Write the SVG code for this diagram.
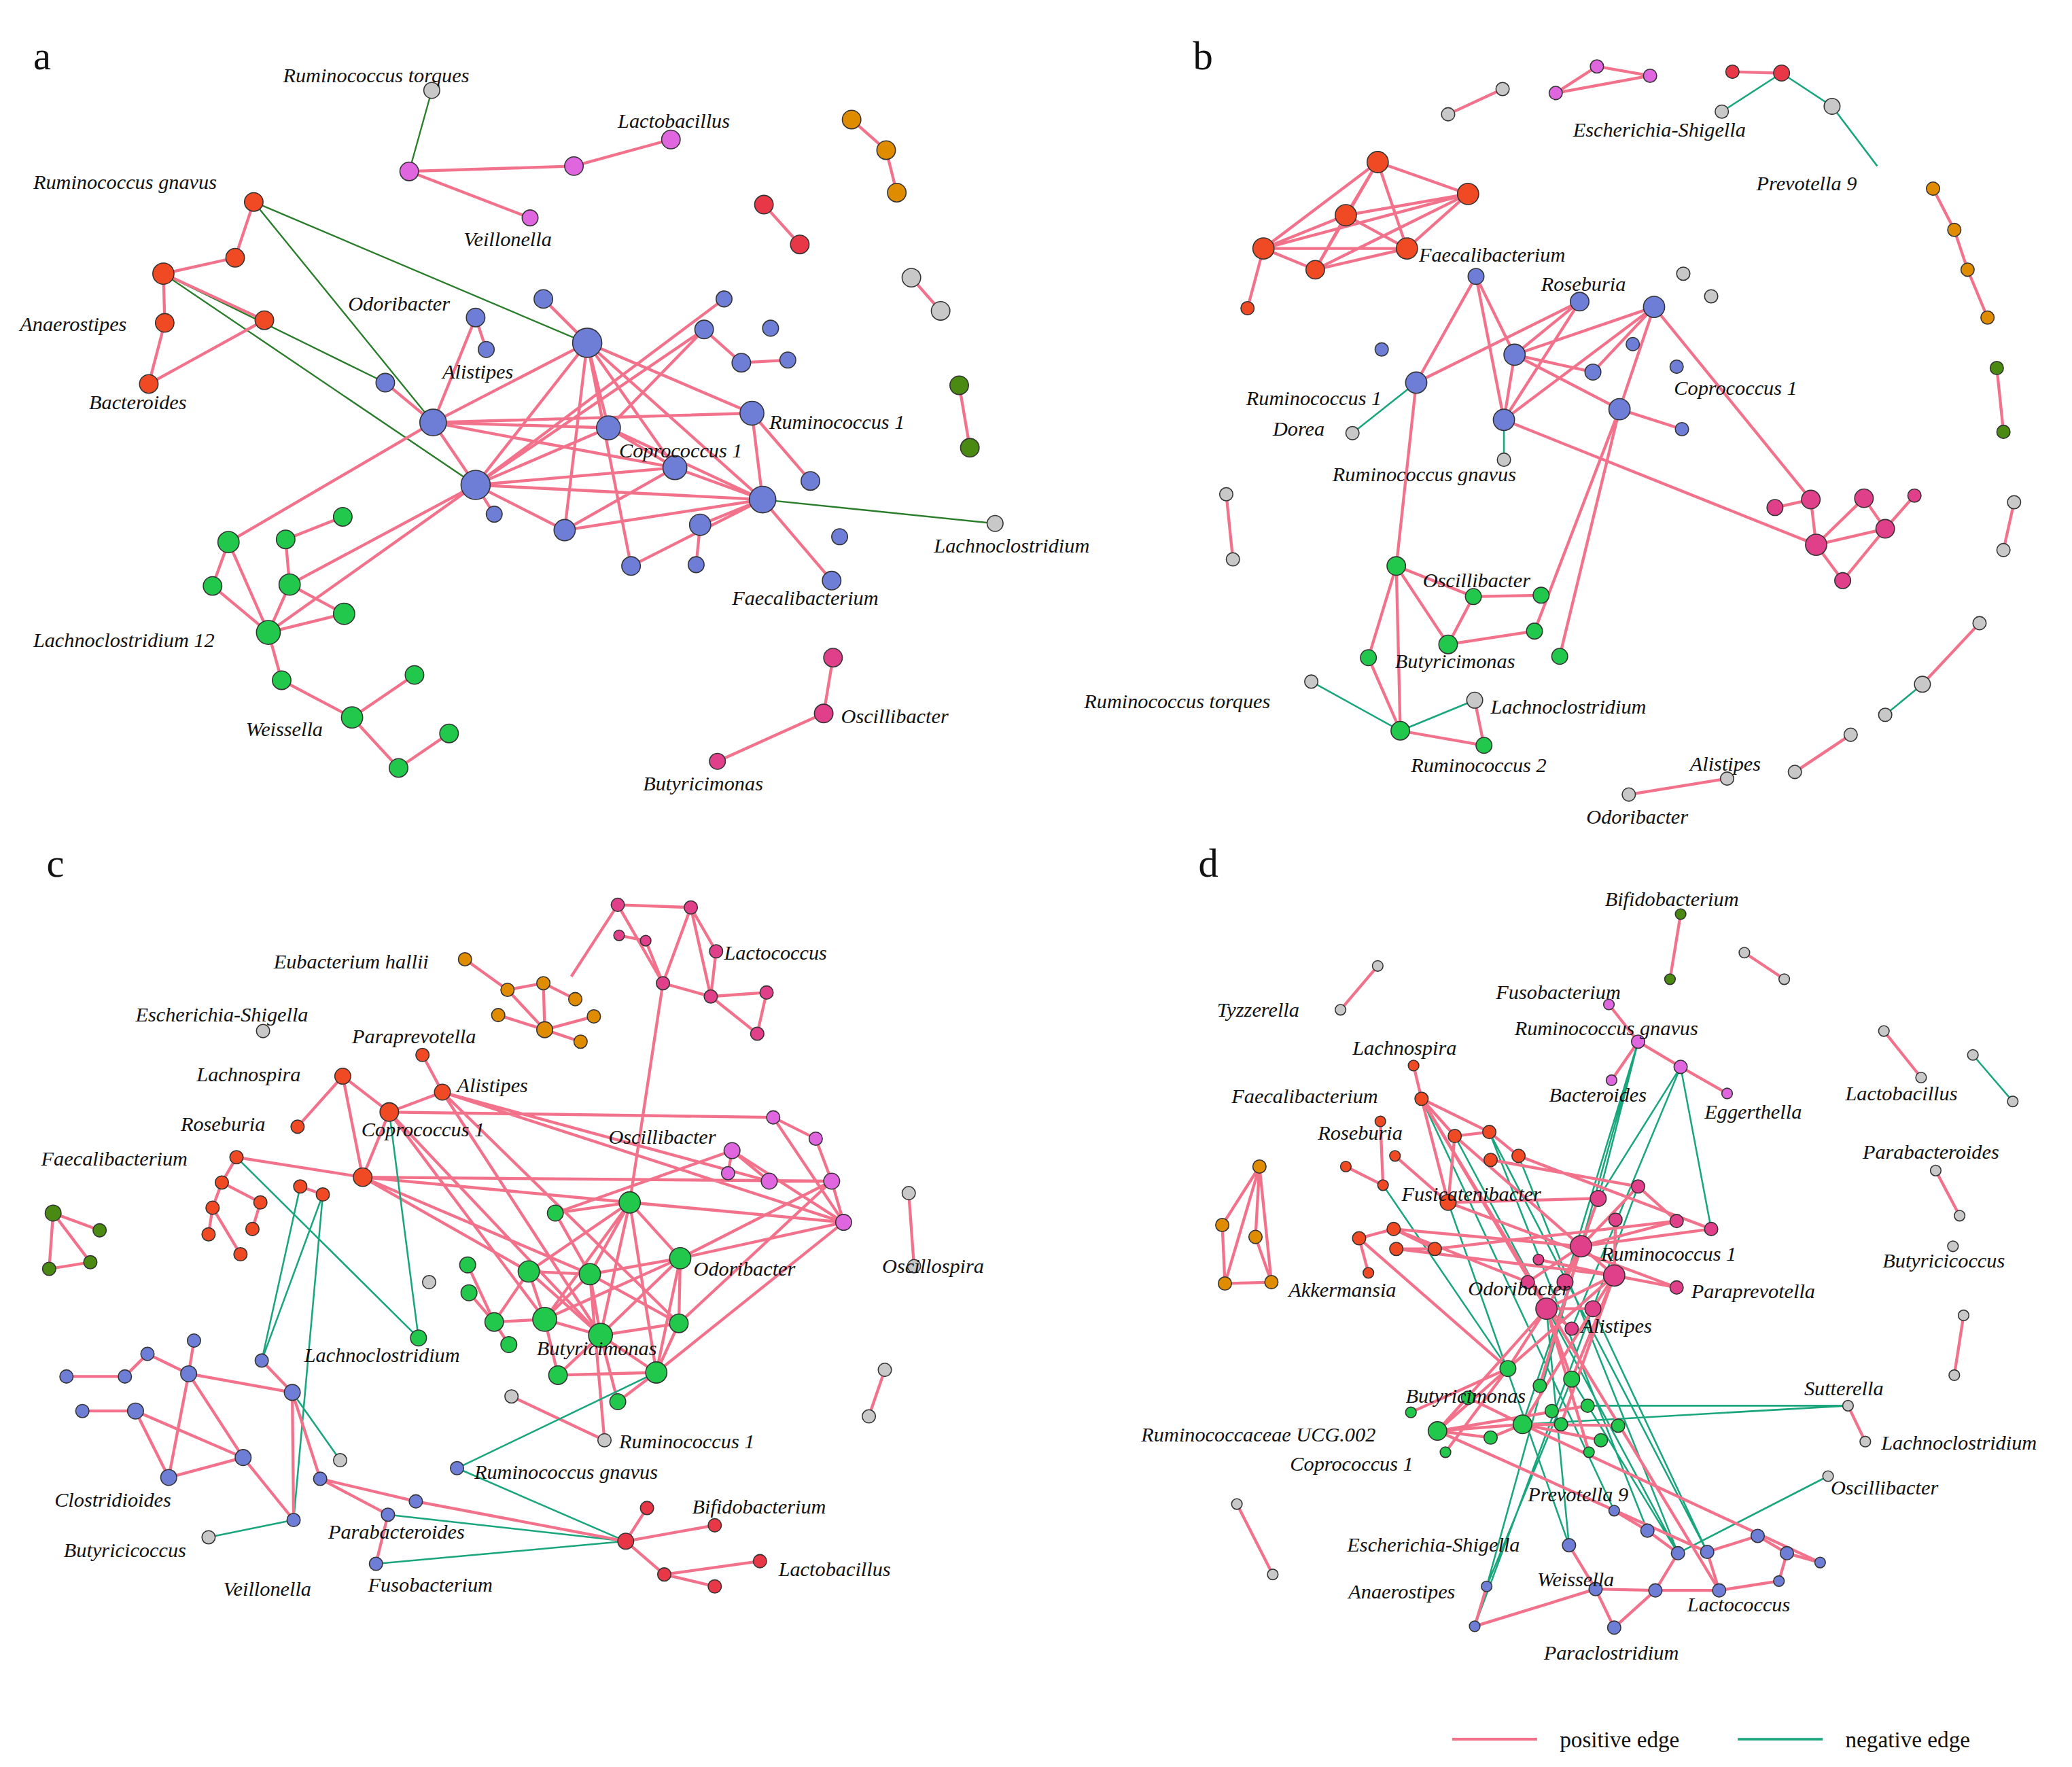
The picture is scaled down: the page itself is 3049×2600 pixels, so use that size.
<svg xmlns="http://www.w3.org/2000/svg" width="3049" height="2600" viewBox="0 0 3049 2600">
<style>
.p{stroke:#f2728c;stroke-width:2.2;fill:none}
.n{stroke:#1aa67c;stroke-width:1.3;fill:none}
.k{stroke:#2a7d2a;stroke-width:1.2;fill:none}
circle{stroke:#333;stroke-width:0.8}
.r{fill:#f04a24}.b{fill:#6e7ed6}.g{fill:#22c84c}.y{fill:#c8c8c8}.m{fill:#e0408a}.v{fill:#e066e0}.o{fill:#e08c00}.l{fill:#4a8a12}.d{fill:#e83848}
text{font-family:"Liberation Serif",serif;font-style:italic;font-size:15.5px;fill:#111}
.L{font-style:normal;font-size:30px}
.lg{font-style:normal;font-size:17px}
</style>
<rect width="3049" height="2600" fill="#fff"/>
<g transform="scale(1.955)">
<g id="connectors">
<!-- panel a -->
<path class="k" d="M325,68L308,129M191,152L326,318M191,152L566,311M123,206L290,288M123,206L358,365M574,376L749,394"/>
<path class="p" d="M308,129L432,125L505,105M308,129L399,164M641,90L667,113L675,145M575,154L602,184M686,209L708,234M722,290L730,337M627,495L620,537L540,573M191,152L177,194L123,206L124,243L112,289L199,241L123,206"/>
<path class="p" d="M326,318L442,258M326,318L458,322M326,318L358,365M326,318L566,311M326,318L290,288M326,318L358,239M326,318L508,352M358,365L442,258M358,365L458,322M358,365L530,248M358,365L545,225M358,365L574,376M358,365L508,352M358,365L425,399M358,365L372,387M442,258L458,322M442,258L409,225M442,258L508,352M442,258L574,376M442,258L425,399M442,258L475,426M442,258L566,311M458,322L574,376M458,322L530,248M458,322L508,352M508,352L574,376M508,352L425,399M574,376L527,395M574,376L566,311M574,376L626,437M574,376L475,426M574,376L425,399M566,311L610,362M558,273L593,271M530,248L558,273M527,395L524,425M358,239L366,263M326,318L172,408M358,365L202,476M358,365L218,440"/>
<path class="p" d="M172,408L160,441L202,476L172,408M215,406L258,389M215,406L218,440L259,462L202,476L218,440M202,476L212,512L265,540L312,508M265,540L300,578L338,552"/>
<!-- panel b -->
<path class="p" d="M1090,86L1131,67M1171,70L1202,50L1242,57L1171,70M1304,54L1341,55M1455,142L1471,173L1481,203L1496,239M1503,277L1508,325M1516,378L1508,414M1490,469L1447,515M1393,553L1351,581M1300,586L1226,598M923,372L928,421"/>
<path class="n" d="M1341,55L1296,84M1341,55L1379,80L1413,125M1447,515L1419,538M1066,288L1018,326M1132,316L1132,346M1054,550L987,513M1054,550L1110,527"/>
<path class="p" d="M1037,122L1013,162L1105,146L951,187L990,203L1059,187L1037,122L951,187M1037,122L990,203M1037,122L1105,146M1013,162L951,187M1013,162L990,203M1013,162L1059,187M1105,146L990,203M1105,146L1059,187M951,187L1059,187M951,187L939,232"/>
<path class="p" d="M1111,208L1066,288M1111,208L1140,267M1111,208L1132,316M1189,227L1140,267M1189,227L1132,316M1245,231L1140,267M1245,231L1219,308M1245,231L1132,316M1245,231L1199,280M1245,231L1363,376M1140,267L1199,280M1140,267L1132,316M1140,267L1219,308M1066,288L1189,227M1066,288L1051,426M1132,316L1367,410M1219,308L1266,323M1219,308L1174,494M1219,308L1155,475"/>
<path class="p" d="M1363,376L1336,382M1363,376L1367,410M1403,375L1367,410M1403,375L1419,398M1441,373L1419,398L1387,437L1367,410L1419,398"/>
<path class="p" d="M1051,426L1090,485M1051,426L1109,449L1160,448M1090,485L1155,475M1090,485L1109,449M1051,426L1030,495L1054,550L1051,426M1054,550L1117,561L1110,527"/>
<!-- panel c -->
<path class="p" d="M350,722L382,745L409,740L433,752M382,745L410,775L409,740M410,775L437,784M410,775L447,765M375,764L410,775M465,681L520,683M465,681L499,740M520,683L539,716M520,683L499,740M520,683L535,750M539,716L535,750M499,740L535,750L577,747L570,778L535,750M466,704L486,708L499,740M430,735L465,681M499,740L474,905"/>
<path class="p" d="M258,810L224,848M258,810L293,837M258,810L273,886M318,794L333,822M333,822L293,837L273,886M178,871L273,886M178,871L167,890L196,905L190,925M167,890L160,909L157,929M160,909L181,944M226,893L243,899M40,913L75,926M40,913L37,955L68,950L40,913"/>
<path class="p" d="M273,886L635,920M293,837L582,841M333,822L579,889M273,886L474,905M273,886L444,959M293,837L410,993M333,822L511,996M333,822L452,1005M273,886L398,957M293,837L452,1005M333,822L635,920M273,886L626,889M582,841L614,857L626,889M551,866L579,889L626,889L635,920M548,883L551,866L635,920M582,841L635,920M418,913L551,866M474,905L635,920M512,947L635,920M512,947L626,889M511,996L626,889M494,1033L635,920"/>
<path class="p" d="M474,905L418,913M474,905L512,947M474,905L398,957M474,905L444,959M474,905L410,993M474,905L452,1005M474,905L494,1033M512,947L444,959M512,947L410,993M512,947L452,1005M512,947L511,996M512,947L494,1033M398,957L444,959M398,957L410,993M398,957L452,1005M398,957L372,995M444,959L410,993M444,959L452,1005M444,959L511,996M410,993L452,1005M410,993L420,1035M452,1005L494,1033M452,1005L511,996M452,1005L420,1035M452,1005L465,1055M372,995L410,993M352,952L372,995M353,973L372,995M372,995L383,1012M418,913L444,959M494,1033L465,1055M511,996L494,1033M420,1035L494,1033M385,1051L455,1084M444,959L455,1084M684,898L688,953M666,1031L654,1066"/>
<path class="n" d="M178,871L315,1007M293,837L315,1007M243,899L197,1024M243,899L221,1144M226,893L197,1024M157,1157L221,1144M220,1048L256,1099M344,1105L471,1160M313,1130L471,1160M344,1105L494,1033M292,1140L471,1160M283,1177L471,1160"/>
<path class="p" d="M146,1009L142,1034M111,1019L142,1034M50,1036L94,1036L111,1019M62,1062L102,1062L127,1112M142,1034L127,1112M142,1034L183,1097M142,1034L220,1048M102,1062L183,1097M127,1112L183,1097M183,1097L221,1144M197,1024L220,1048L221,1144M220,1048L241,1113L313,1130L471,1160M292,1140L283,1177M241,1113L292,1140M487,1135L471,1160L538,1148M471,1160L500,1185L572,1175M500,1185L538,1194"/>
<!-- panel d -->
<path class="p" d="M1265,688L1257,737M1037,727L1009,760M1313,717L1343,737M1418,776L1446,811M1457,881L1475,915M1478,990L1471,1035M931,1132L958,1185M1404,1085L1391,1058M948,878L920,922M948,878L945,931M948,878L922,966M948,878L957,965M920,922L922,966M945,931L957,965M922,966L957,965M1233,784L1213,813M1233,784L1265,803L1300,823M1211,756L1233,784"/>
<path class="n" d="M1485,794L1515,829M1233,784L1190,938M1233,784L1178,965M1265,803L1183,1000M1265,803L1288,925M1265,803L1203,902M1233,784L1203,902M1090,905L1181,1163M1095,855L1263,1169M1121,852L1240,1152M1041,892L1135,1030M1070,827L1215,1137M1143,870L1263,1169M1391,1058L1146,1072M1391,1058L1195,1058M1376,1111L1263,1169M1215,960L1119,1194M1233,893L1110,1224M1190,938L1119,1194M1164,985L1181,1163M1121,852L1285,1168M1203,902L1146,1072M1183,1038L1263,1169M1199,985L1285,1168"/>
<path class="p" d="M1070,827L1095,855M1070,827L1121,852M1095,855L1121,852L1143,870M1095,855L1090,905M1070,827L1090,905M1064,802L1070,827M1039,844L1041,892M1013,878L1041,892M1050,870L1090,905M1023,932L1049,925L1080,940M1051,940L1080,940M1023,932L1030,958M1090,905L1203,902M1049,925L1190,938M1095,855L1190,938M1122,873L1233,893M1070,827L1164,985M1080,940L1262,919M1051,940L1215,960M1090,905L1262,969M1143,870L1288,925M1023,932L1135,1030M1049,925L1150,965"/>
<path class="p" d="M1190,938L1215,960M1190,938L1164,985M1190,938L1262,919M1190,938L1233,893M1215,960L1262,969M1215,960L1164,985M1164,985L1199,985L1215,960M1190,938L1288,925M1158,948L1215,960M1178,965L1190,938M1203,902L1190,938M1216,918L1215,960M1233,893L1262,919M1164,985L1183,1000M1150,965L1190,938"/>
<path class="p" d="M1135,1030L1082,1077L1146,1072L1205,1084M1082,1077L1122,1082L1146,1072M1135,1030L1164,985M1183,1038L1164,985M1183,1038L1215,960M1146,1072L1218,1073M1082,1077L1195,1058M1088,1093L1135,1030M1062,1063L1135,1030M1105,1052L1146,1072M1159,1043L1190,938M1082,1077L1285,1168M1146,1072L1370,1176M1070,827L1294,1197M1082,1077L1164,985M1135,1030L1215,960M1175,1072L1215,960M1196,1093L1164,985M1146,1072L1199,985"/>
<path class="p" d="M1215,1137L1240,1152L1263,1169M1285,1168L1323,1156L1345,1169L1370,1176M1345,1169L1339,1190M1246,1197L1294,1197L1339,1190M1246,1197L1215,1225L1201,1196L1246,1197M1263,1169L1246,1197M1119,1194L1110,1224L1201,1196M1181,1163L1201,1196M1285,1168L1294,1197"/>
</g>
<g id="nodes">
<!-- a -->
<circle class="y" cx="325" cy="68" r="6"/><circle class="v" cx="308" cy="129" r="7"/><circle class="v" cx="432" cy="125" r="7"/><circle class="v" cx="505" cy="105" r="7"/><circle class="v" cx="399" cy="164" r="6"/>
<circle class="o" cx="641" cy="90" r="7"/><circle class="o" cx="667" cy="113" r="7"/><circle class="o" cx="675" cy="145" r="7"/>
<circle class="d" cx="575" cy="154" r="7"/><circle class="d" cx="602" cy="184" r="7"/><circle class="y" cx="686" cy="209" r="7"/><circle class="y" cx="708" cy="234" r="7"/><circle class="l" cx="722" cy="290" r="7"/><circle class="l" cx="730" cy="337" r="7"/>
<circle class="r" cx="191" cy="152" r="7"/><circle class="r" cx="177" cy="194" r="7"/><circle class="r" cx="123" cy="206" r="8"/><circle class="r" cx="124" cy="243" r="7"/><circle class="r" cx="199" cy="241" r="7"/><circle class="r" cx="112" cy="289" r="7"/>
<circle class="b" cx="409" cy="225" r="7"/><circle class="b" cx="442" cy="258" r="11"/><circle class="b" cx="358" cy="239" r="7"/><circle class="b" cx="366" cy="263" r="6"/><circle class="b" cx="290" cy="288" r="7"/><circle class="b" cx="326" cy="318" r="10"/><circle class="b" cx="358" cy="365" r="11"/><circle class="b" cx="372" cy="387" r="6"/><circle class="b" cx="545" cy="225" r="6"/><circle class="b" cx="530" cy="248" r="7"/><circle class="b" cx="580" cy="247" r="6"/><circle class="b" cx="558" cy="273" r="7"/><circle class="b" cx="593" cy="271" r="6"/><circle class="b" cx="566" cy="311" r="9"/><circle class="b" cx="458" cy="322" r="9"/><circle class="b" cx="508" cy="352" r="9"/><circle class="b" cx="610" cy="362" r="7"/><circle class="b" cx="574" cy="376" r="10"/><circle class="b" cx="425" cy="399" r="8"/><circle class="b" cx="527" cy="395" r="8"/><circle class="b" cx="475" cy="426" r="7"/><circle class="b" cx="524" cy="425" r="6"/><circle class="b" cx="632" cy="404" r="6"/><circle class="b" cx="626" cy="437" r="7"/>
<circle class="y" cx="749" cy="394" r="6"/>
<circle class="g" cx="258" cy="389" r="7"/><circle class="g" cx="172" cy="408" r="8"/><circle class="g" cx="215" cy="406" r="7"/><circle class="g" cx="218" cy="440" r="8"/><circle class="g" cx="160" cy="441" r="7"/><circle class="g" cx="259" cy="462" r="8"/><circle class="g" cx="202" cy="476" r="9"/><circle class="g" cx="212" cy="512" r="7"/><circle class="g" cx="312" cy="508" r="7"/><circle class="g" cx="265" cy="540" r="8"/><circle class="g" cx="338" cy="552" r="7"/><circle class="g" cx="300" cy="578" r="7"/>
<circle class="m" cx="627" cy="495" r="7"/><circle class="m" cx="620" cy="537" r="7"/><circle class="m" cx="540" cy="573" r="6"/>
<!-- b -->
<circle class="y" cx="1090" cy="86" r="5"/><circle class="y" cx="1131" cy="67" r="5"/><circle class="v" cx="1171" cy="70" r="5"/><circle class="v" cx="1202" cy="50" r="5"/><circle class="v" cx="1242" cy="57" r="5"/>
<circle class="d" cx="1304" cy="54" r="5"/><circle class="d" cx="1341" cy="55" r="6"/><circle class="y" cx="1296" cy="84" r="5"/><circle class="y" cx="1379" cy="80" r="6"/>
<circle class="o" cx="1455" cy="142" r="5"/><circle class="o" cx="1471" cy="173" r="5"/><circle class="o" cx="1481" cy="203" r="5"/><circle class="o" cx="1496" cy="239" r="5"/><circle class="l" cx="1503" cy="277" r="5"/><circle class="l" cx="1508" cy="325" r="5"/>
<circle class="y" cx="1516" cy="378" r="5"/><circle class="y" cx="1508" cy="414" r="5"/><circle class="y" cx="1490" cy="469" r="5"/><circle class="y" cx="1447" cy="515" r="6"/><circle class="y" cx="1419" cy="538" r="5"/><circle class="y" cx="1393" cy="553" r="5"/><circle class="y" cx="1351" cy="581" r="5"/><circle class="y" cx="1300" cy="586" r="5"/><circle class="y" cx="1226" cy="598" r="5"/><circle class="y" cx="923" cy="372" r="5"/><circle class="y" cx="928" cy="421" r="5"/>
<circle class="r" cx="1037" cy="122" r="8"/><circle class="r" cx="1013" cy="162" r="8"/><circle class="r" cx="1105" cy="146" r="8"/><circle class="r" cx="951" cy="187" r="8"/><circle class="r" cx="990" cy="203" r="7"/><circle class="r" cx="1059" cy="187" r="8"/><circle class="r" cx="939" cy="232" r="5"/>
<circle class="b" cx="1111" cy="208" r="6"/><circle class="b" cx="1189" cy="227" r="7"/><circle class="b" cx="1245" cy="231" r="8"/><circle class="y" cx="1267" cy="206" r="5"/><circle class="y" cx="1288" cy="223" r="5"/><circle class="b" cx="1140" cy="267" r="8"/><circle class="b" cx="1229" cy="259" r="5"/><circle class="b" cx="1199" cy="280" r="6"/><circle class="b" cx="1262" cy="276" r="5"/><circle class="b" cx="1040" cy="263" r="5"/><circle class="b" cx="1066" cy="288" r="8"/><circle class="b" cx="1132" cy="316" r="8"/><circle class="b" cx="1219" cy="308" r="8"/><circle class="b" cx="1266" cy="323" r="5"/>
<circle class="y" cx="1018" cy="326" r="5"/><circle class="y" cx="1132" cy="346" r="5"/>
<circle class="m" cx="1336" cy="382" r="6"/><circle class="m" cx="1363" cy="376" r="7"/><circle class="m" cx="1403" cy="375" r="7"/><circle class="m" cx="1441" cy="373" r="5"/><circle class="m" cx="1367" cy="410" r="8"/><circle class="m" cx="1419" cy="398" r="7"/><circle class="m" cx="1387" cy="437" r="6"/>
<circle class="g" cx="1051" cy="426" r="7"/><circle class="g" cx="1109" cy="449" r="6"/><circle class="g" cx="1160" cy="448" r="6"/><circle class="g" cx="1090" cy="485" r="7"/><circle class="g" cx="1155" cy="475" r="6"/><circle class="g" cx="1174" cy="494" r="6"/><circle class="g" cx="1030" cy="495" r="6"/><circle class="g" cx="1054" cy="550" r="7"/><circle class="g" cx="1117" cy="561" r="6"/><circle class="y" cx="987" cy="513" r="5"/><circle class="y" cx="1110" cy="527" r="6"/>
<!-- c -->
<circle class="o" cx="350" cy="722" r="5"/><circle class="o" cx="382" cy="745" r="5"/><circle class="o" cx="409" cy="740" r="5"/><circle class="o" cx="433" cy="752" r="5"/><circle class="o" cx="375" cy="764" r="5"/><circle class="o" cx="410" cy="775" r="6"/><circle class="o" cx="437" cy="784" r="5"/><circle class="o" cx="447" cy="765" r="5"/>
<circle class="m" cx="465" cy="681" r="5"/><circle class="m" cx="520" cy="683" r="5"/><circle class="m" cx="466" cy="704" r="4"/><circle class="m" cx="486" cy="708" r="4"/><circle class="m" cx="539" cy="716" r="5"/><circle class="m" cx="499" cy="740" r="5"/><circle class="m" cx="535" cy="750" r="5"/><circle class="m" cx="577" cy="747" r="5"/><circle class="m" cx="570" cy="778" r="5"/>
<circle class="y" cx="198" cy="776" r="5"/>
<circle class="r" cx="318" cy="794" r="5"/><circle class="r" cx="258" cy="810" r="6"/><circle class="r" cx="333" cy="822" r="6"/><circle class="r" cx="293" cy="837" r="7"/><circle class="r" cx="224" cy="848" r="5"/><circle class="r" cx="178" cy="871" r="5"/><circle class="r" cx="273" cy="886" r="7"/><circle class="r" cx="167" cy="890" r="5"/><circle class="r" cx="196" cy="905" r="5"/><circle class="r" cx="226" cy="893" r="5"/><circle class="r" cx="243" cy="899" r="5"/><circle class="r" cx="160" cy="909" r="5"/><circle class="r" cx="190" cy="925" r="5"/><circle class="r" cx="157" cy="929" r="5"/><circle class="r" cx="181" cy="944" r="5"/>
<circle class="v" cx="582" cy="841" r="5"/><circle class="v" cx="614" cy="857" r="5"/><circle class="v" cx="551" cy="866" r="6"/><circle class="v" cx="548" cy="883" r="5"/><circle class="v" cx="579" cy="889" r="6"/><circle class="v" cx="626" cy="889" r="6"/><circle class="v" cx="635" cy="920" r="6"/>
<circle class="g" cx="474" cy="905" r="8"/><circle class="g" cx="418" cy="913" r="6"/><circle class="g" cx="512" cy="947" r="8"/><circle class="g" cx="398" cy="957" r="8"/><circle class="g" cx="444" cy="959" r="8"/><circle class="g" cx="352" cy="952" r="6"/><circle class="g" cx="353" cy="973" r="6"/><circle class="g" cx="372" cy="995" r="7"/><circle class="g" cx="410" cy="993" r="9"/><circle class="g" cx="452" cy="1005" r="9"/><circle class="g" cx="511" cy="996" r="7"/><circle class="g" cx="383" cy="1012" r="6"/><circle class="g" cx="420" cy="1035" r="7"/><circle class="g" cx="494" cy="1033" r="8"/><circle class="g" cx="465" cy="1055" r="6"/><circle class="g" cx="315" cy="1007" r="6"/>
<circle class="y" cx="323" cy="965" r="5"/><circle class="y" cx="385" cy="1051" r="5"/><circle class="y" cx="455" cy="1084" r="5"/><circle class="y" cx="684" cy="898" r="5"/><circle class="y" cx="688" cy="953" r="5"/><circle class="y" cx="666" cy="1031" r="5"/><circle class="y" cx="654" cy="1066" r="5"/>
<circle class="l" cx="40" cy="913" r="6"/><circle class="l" cx="75" cy="926" r="5"/><circle class="l" cx="37" cy="955" r="5"/><circle class="l" cx="68" cy="950" r="5"/>
<circle class="b" cx="146" cy="1009" r="5"/><circle class="b" cx="111" cy="1019" r="5"/><circle class="b" cx="50" cy="1036" r="5"/><circle class="b" cx="94" cy="1036" r="5"/><circle class="b" cx="142" cy="1034" r="6"/><circle class="b" cx="197" cy="1024" r="5"/><circle class="b" cx="62" cy="1062" r="5"/><circle class="b" cx="102" cy="1062" r="6"/><circle class="b" cx="220" cy="1048" r="6"/><circle class="b" cx="183" cy="1097" r="6"/><circle class="b" cx="127" cy="1112" r="6"/><circle class="b" cx="221" cy="1144" r="5"/><circle class="b" cx="241" cy="1113" r="5"/><circle class="y" cx="256" cy="1099" r="5"/><circle class="b" cx="313" cy="1130" r="5"/><circle class="b" cx="344" cy="1105" r="5"/><circle class="b" cx="292" cy="1140" r="5"/><circle class="b" cx="283" cy="1177" r="5"/><circle class="y" cx="157" cy="1157" r="5"/>
<circle class="d" cx="487" cy="1135" r="5"/><circle class="d" cx="471" cy="1160" r="6"/><circle class="d" cx="538" cy="1148" r="5"/><circle class="d" cx="572" cy="1175" r="5"/><circle class="d" cx="500" cy="1185" r="5"/><circle class="d" cx="538" cy="1194" r="5"/>
<!-- d -->
<circle class="l" cx="1265" cy="688" r="4"/><circle class="l" cx="1257" cy="737" r="4"/><circle class="y" cx="1037" cy="727" r="4"/><circle class="y" cx="1009" cy="760" r="4"/><circle class="y" cx="1313" cy="717" r="4"/><circle class="y" cx="1343" cy="737" r="4"/><circle class="y" cx="1418" cy="776" r="4"/><circle class="y" cx="1446" cy="811" r="4"/><circle class="y" cx="1485" cy="794" r="4"/><circle class="y" cx="1515" cy="829" r="4"/><circle class="y" cx="1457" cy="881" r="4"/><circle class="y" cx="1475" cy="915" r="4"/><circle class="y" cx="1470" cy="938" r="4"/><circle class="y" cx="1478" cy="990" r="4"/><circle class="y" cx="1471" cy="1035" r="4"/><circle class="y" cx="931" cy="1132" r="4"/><circle class="y" cx="958" cy="1185" r="4"/>
<circle class="v" cx="1211" cy="756" r="4"/><circle class="v" cx="1233" cy="784" r="5"/><circle class="v" cx="1265" cy="803" r="5"/><circle class="v" cx="1213" cy="813" r="4"/><circle class="v" cx="1300" cy="823" r="4"/>
<circle class="o" cx="948" cy="878" r="5"/><circle class="o" cx="920" cy="922" r="5"/><circle class="o" cx="945" cy="931" r="5"/><circle class="o" cx="922" cy="966" r="5"/><circle class="o" cx="957" cy="965" r="5"/>
<circle class="r" cx="1064" cy="802" r="4"/><circle class="r" cx="1070" cy="827" r="5"/><circle class="r" cx="1039" cy="844" r="4"/><circle class="r" cx="1095" cy="855" r="5"/><circle class="r" cx="1121" cy="852" r="5"/><circle class="r" cx="1143" cy="870" r="5"/><circle class="r" cx="1013" cy="878" r="4"/><circle class="r" cx="1041" cy="892" r="4"/><circle class="r" cx="1050" cy="870" r="4"/><circle class="r" cx="1090" cy="905" r="6"/><circle class="r" cx="1122" cy="873" r="5"/><circle class="r" cx="1049" cy="925" r="5"/><circle class="r" cx="1023" cy="932" r="5"/><circle class="r" cx="1051" cy="940" r="5"/><circle class="r" cx="1080" cy="940" r="5"/><circle class="r" cx="1030" cy="958" r="4"/>
<circle class="m" cx="1203" cy="902" r="6"/><circle class="m" cx="1233" cy="893" r="5"/><circle class="m" cx="1262" cy="919" r="5"/><circle class="m" cx="1288" cy="925" r="5"/><circle class="m" cx="1216" cy="918" r="5"/><circle class="m" cx="1190" cy="938" r="8"/><circle class="m" cx="1158" cy="948" r="4"/><circle class="m" cx="1215" cy="960" r="8"/><circle class="m" cx="1178" cy="965" r="6"/><circle class="m" cx="1150" cy="965" r="5"/><circle class="m" cx="1262" cy="969" r="5"/><circle class="m" cx="1164" cy="985" r="8"/><circle class="m" cx="1199" cy="985" r="6"/><circle class="m" cx="1183" cy="1000" r="5"/>
<circle class="g" cx="1135" cy="1030" r="6"/><circle class="g" cx="1183" cy="1038" r="6"/><circle class="g" cx="1159" cy="1043" r="5"/><circle class="g" cx="1105" cy="1052" r="5"/><circle class="g" cx="1062" cy="1063" r="4"/><circle class="g" cx="1082" cy="1077" r="7"/><circle class="g" cx="1122" cy="1082" r="5"/><circle class="g" cx="1146" cy="1072" r="7"/><circle class="g" cx="1168" cy="1062" r="5"/><circle class="g" cx="1195" cy="1058" r="5"/><circle class="g" cx="1175" cy="1072" r="5"/><circle class="g" cx="1205" cy="1084" r="5"/><circle class="g" cx="1218" cy="1073" r="5"/><circle class="g" cx="1088" cy="1093" r="4"/><circle class="g" cx="1196" cy="1093" r="4"/>
<circle class="y" cx="1391" cy="1058" r="4"/><circle class="y" cx="1404" cy="1085" r="4"/><circle class="y" cx="1376" cy="1111" r="4"/>
<circle class="b" cx="1215" cy="1137" r="4"/><circle class="b" cx="1240" cy="1152" r="5"/><circle class="b" cx="1181" cy="1163" r="5"/><circle class="b" cx="1263" cy="1169" r="5"/><circle class="b" cx="1285" cy="1168" r="5"/><circle class="b" cx="1323" cy="1156" r="5"/><circle class="b" cx="1345" cy="1169" r="5"/><circle class="b" cx="1370" cy="1176" r="4"/><circle class="b" cx="1339" cy="1190" r="4"/><circle class="b" cx="1246" cy="1197" r="5"/><circle class="b" cx="1294" cy="1197" r="5"/><circle class="b" cx="1201" cy="1196" r="5"/><circle class="b" cx="1119" cy="1194" r="4"/><circle class="b" cx="1110" cy="1224" r="4"/><circle class="b" cx="1215" cy="1225" r="5"/>
</g>
<g id="labels">
<text class="L" x="25" y="52">a</text><text class="L" x="898" y="52">b</text><text class="L" x="35" y="660">c</text><text class="L" x="902" y="660">d</text>
<text x="213" y="62">Ruminococcus torques</text><text x="465" y="96">Lactobacillus</text><text x="25" y="142">Ruminococcus gnavus</text><text x="349" y="185">Veillonella</text><text x="262" y="234">Odoribacter</text><text x="15" y="249">Anaerostipes</text><text x="333" y="285">Alistipes</text><text x="67" y="308">Bacteroides</text><text x="579" y="323">Ruminococcus 1</text><text x="466" y="344">Coprococcus 1</text><text x="703" y="416">Lachnoclostridium</text><text x="551" y="455">Faecalibacterium</text><text x="25" y="487">Lachnoclostridium 12</text><text x="185" y="554">Weissella</text><text x="633" y="544">Oscillibacter</text><text x="484" y="595">Butyricimonas</text>
<text x="1184" y="103">Escherichia-Shigella</text><text x="1322" y="143">Prevotella 9</text><text x="1068" y="197">Faecalibacterium</text><text x="1160" y="219">Roseburia</text><text x="938" y="305">Ruminococcus 1</text><text x="958" y="328">Dorea</text><text x="1260" y="297">Coprococcus 1</text><text x="1003" y="362">Ruminococcus gnavus</text><text x="1071" y="442">Oscillibacter</text><text x="1050" y="503">Butyricimonas</text><text x="816" y="533">Ruminococcus torques</text><text x="1122" y="537">Lachnoclostridium</text><text x="1062" y="581">Ruminococcus 2</text><text x="1272" y="580">Alistipes</text><text x="1194" y="620">Odoribacter</text>
<text x="206" y="729">Eubacterium hallii</text><text x="545" y="722">Lactococcus</text><text x="102" y="769">Escherichia-Shigella</text><text x="265" y="785">Paraprevotella</text><text x="148" y="814">Lachnospira</text><text x="344" y="822">Alistipes</text><text x="136" y="851">Roseburia</text><text x="272" y="855">Coprococcus 1</text><text x="458" y="861">Oscillibacter</text><text x="31" y="877">Faecalibacterium</text><text x="664" y="958">Oscillospira</text><text x="522" y="960">Odoribacter</text><text x="229" y="1025">Lachnoclostridium</text><text x="404" y="1020">Butyricimonas</text><text x="466" y="1090">Ruminococcus 1</text><text x="357" y="1113">Ruminococcus gnavus</text><text x="521" y="1139">Bifidobacterium</text><text x="41" y="1134">Clostridioides</text><text x="247" y="1158">Parabacteroides</text><text x="48" y="1172">Butyricicoccus</text><text x="586" y="1186">Lactobacillus</text><text x="168" y="1201">Veillonella</text><text x="277" y="1198">Fusobacterium</text>
<text x="1208" y="682">Bifidobacterium</text><text x="916" y="765">Tyzzerella</text><text x="1126" y="752">Fusobacterium</text><text x="1140" y="779">Ruminococcus gnavus</text><text x="1018" y="794">Lachnospira</text><text x="927" y="830">Faecalibacterium</text><text x="1166" y="829">Bacteroides</text><text x="1389" y="828">Lactobacillus</text><text x="1283" y="842">Eggerthella</text><text x="992" y="858">Roseburia</text><text x="1402" y="872">Parabacteroides</text><text x="1055" y="904">Fusicatenibacter</text><text x="1417" y="954">Butyricicoccus</text><text x="1205" y="949">Ruminococcus 1</text><text x="1105" y="975">Odoribacter</text><text x="1273" y="977">Paraprevotella</text><text x="970" y="976">Akkermansia</text><text x="1190" y="1003">Alistipes</text><text x="1058" y="1056">Butyricimonas</text><text x="1358" y="1050">Sutterella</text><text x="859" y="1085">Ruminococcaceae UCG.002</text><text x="1416" y="1091">Lachnoclostridium</text><text x="971" y="1107">Coprococcus 1</text><text x="1150" y="1130">Prevotella 9</text><text x="1378" y="1125">Oscillibacter</text><text x="1014" y="1168">Escherichia-Shigella</text><text x="1015" y="1203">Anaerostipes</text><text x="1157" y="1194">Weissella</text><text x="1270" y="1213">Lactococcus</text><text x="1162" y="1249">Paraclostridium</text>
</g>
<g id="legend">
<line class="p" x1="1093" y1="1309" x2="1157" y2="1309"/><text class="lg" x="1174" y="1315">positive edge</text>
<line class="n" x1="1308" y1="1309" x2="1372" y2="1309" style="stroke-width:2"/><text class="lg" x="1389" y="1315">negative edge</text>
</g>
</g>
</svg>
